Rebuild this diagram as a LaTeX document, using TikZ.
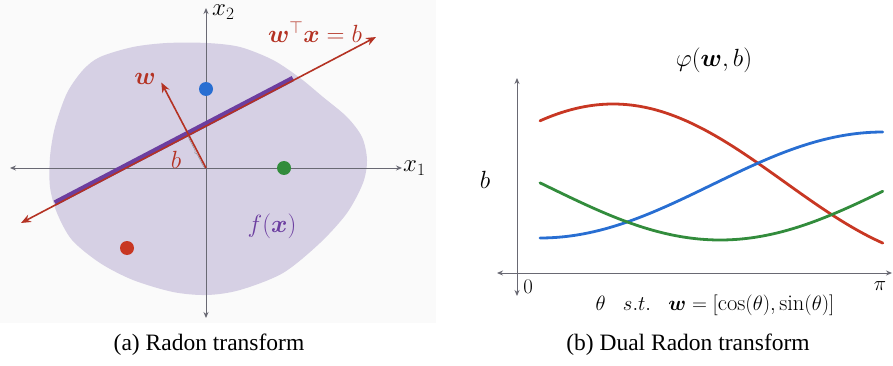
\documentclass[tikz,border=0pt]{standalone}
\usepackage{bm}
\usepackage{fontspec}
\newfontfamily\capfont{Liberation Serif}
\usetikzlibrary{arrows.meta,decorations.pathreplacing}
\definecolor{blobfill}{RGB}{214,208,228}
\definecolor{lineRed}{RGB}{180,50,35}
\definecolor{fPurple}{RGB}{108,62,160}
\definecolor{axisGray}{RGB}{105,105,115}
\definecolor{ptBlue}{RGB}{40,110,210}
\definecolor{ptGreen}{RGB}{50,140,60}
\definecolor{ptRed}{RGB}{200,55,35}
\begin{document}
\begin{tikzpicture}[
    x=1pt, y=-1pt,
    axis/.style={
        draw=axisGray,
        line width=0.9pt,
        {Stealth[length=6pt,width=5pt]}-{Stealth[length=6pt,width=5pt]}
    },
    lbl/.style={
        inner sep=1pt,
        font=\fontsize{24}{28}\selectfont
    },
    dot/.style={
        circle,
        inner sep=0pt,
        minimum size=14pt
    },
    curve/.style={
        line width=2.8pt,
        line cap=round
    },
    caption/.style={
        anchor=base,
        font=\capfont\fontsize{23.5}{28}\selectfont
    }
]
    \useasboundingbox (0,0) rectangle (893,366);
    \fill[black!2] (0,0) rectangle (436,323);

    % (a) Radon transform
    \fill[blobfill] plot[smooth cycle, tension=0.5] coordinates {
        (100,57) (83,70) (67,93) (55,127) (50,157) (50,187) (57,213)
        (72,240) (100,263) (133,280) (173,292) (207,295) (240,290)
        (283,273) (320,243) (347,213) (363,183) (367,160) (362,137)
        (347,117) (323,97) (300,78) (273,60) (240,47) (207,43) (167,43)
        (133,47)};

    \coordinate (O) at (206,168);
    \coordinate (xL) at (10,168);
    \coordinate (xR) at (402,168);
    \coordinate (yT) at (206,8);
    \coordinate (yB) at (206,318);
    \draw[axis] (xL) -- (xR);
    \draw[axis] (yB) -- (yT);
    \node[lbl, anchor=west] (xone) at (xR) {$x_1$};
    \node[lbl, anchor=north west] (xtwo) at (211,4) {$x_2$};

    \node[dot, fill=ptBlue] (pBlue) at (206,89) {};
    \node[dot, fill=ptGreen] (pGreen) at (284,168) {};
    \node[dot, fill=ptRed] (pRed) at (127,248) {};

    \coordinate (lnA) at (21,223);
    \coordinate (lnB) at (376,37);
    \coordinate (segA) at (55,203);
    \coordinate (segB) at (293,78.5);
    \coordinate (foot) at (188.8,135.1);
    \coordinate (wTip) at (161.3,82.5);

    \draw[fPurple, line width=5.5pt] (segA) -- (segB);
    \draw[lineRed, line width=1.6pt, {Stealth[length=10pt,width=8pt]}-{Stealth[length=10pt,width=8pt]}]
        (lnA) -- (lnB);
    \draw[axisGray!80, line width=0.4pt, decorate,
        decoration={brace, amplitude=3pt, mirror}] (foot) -- (O);
    \draw[lineRed, line width=1.6pt, -{Stealth[length=10pt,width=8pt]}] (O) -- (wTip);

    \node[lbl, text=lineRed, anchor=east] (wlab) at (157,79) {$\bm{w}$};
    \node[lbl, text=lineRed] (blab) at (176,160) {$b$};
    \node[lbl, text=lineRed] (hyp) at (315,32) {$\bm{w}^{\top}\bm{x}=b$};
    \node[lbl, text=fPurple, font=\fontsize{29}{34}\selectfont] (fx) at (272,226) {$f(\bm{x})$};

    \node[caption] (capA) at (209,350) {(a) Radon transform};

    % (b) Dual Radon transform
    \coordinate (hL) at (497,273);
    \coordinate (hR) at (892,273);
    \coordinate (vT) at (517,78);
    \coordinate (vB) at (517,296);
    \draw[axis] (hL) -- (hR);
    \draw[axis] (vB) -- (vT);

    \draw[curve, ptRed] plot[domain=0:1, samples=80]
        ({540+343*\x}, {182-78*cos(180*(\x-0.213))});
    \draw[curve, ptBlue] plot[domain=0:1, samples=80]
        ({540+343*\x}, {185+53*cos(180*\x)});
    \draw[curve, ptGreen] plot[domain=0:1, samples=80]
        ({540+343*\x}, {187+53*cos(180*(\x-0.525))});

    \node[lbl, font=\fontsize{29}{34}\selectfont] (title) at (714,60) {$\varphi(\bm{w},b)$};
    \node[lbl] (bAxis) at (485,180) {$b$};
    \node[lbl, font=\fontsize{22}{26}\selectfont] (zero) at (528,287) {$0$};
    \node[lbl, font=\fontsize{22}{26}\selectfont] (piLab) at (880,286) {$\pi$};
    \node[lbl, font=\fontsize{22.5}{26}\selectfont] (thetaLab) at (715,305)
        {$\theta\;\;\; s.t.\;\;\; \bm{w}=[\cos(\theta),\sin(\theta)]$};

    \node[caption] (capB) at (688,350) {(b) Dual Radon transform};
\end{tikzpicture}
\end{document}
